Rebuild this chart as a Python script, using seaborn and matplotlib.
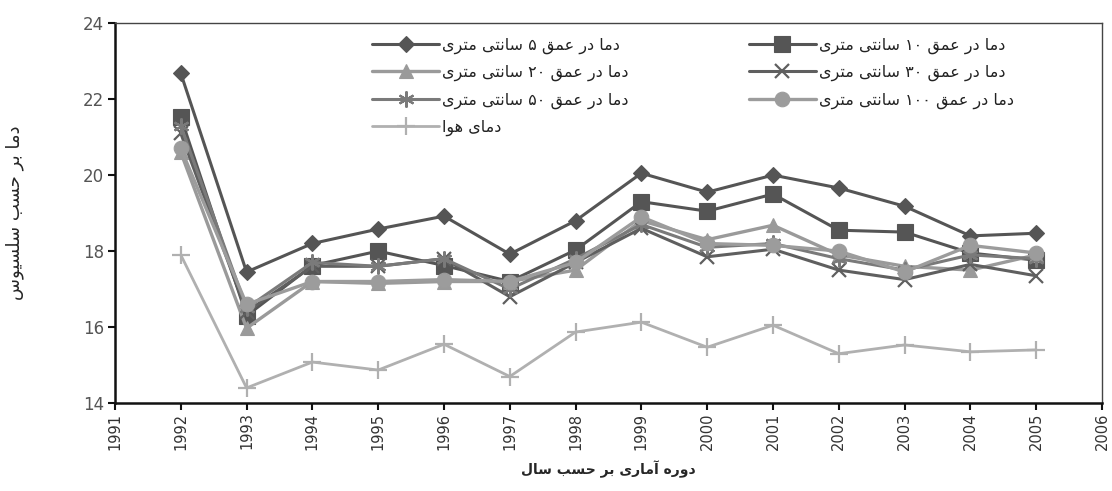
import re
import numpy as np
import pandas as pd
import matplotlib
matplotlib.use("Agg")
import matplotlib.pyplot as plt
import seaborn as sns

# ---------------- data ----------------
years = list(range(1992, 2006))
t5   = [22.68, 17.45, 18.20, 18.58, 18.92, 17.92, 18.80, 20.05, 19.55, 20.00, 19.66, 19.18, 18.40, 18.47]
t10  = [21.53, 16.30, 17.62, 18.00, 17.62, 17.20, 18.03, 19.30, 19.05, 19.50, 18.55, 18.50, 17.95, 17.76]
t20  = [20.60, 15.97, 17.20, 17.15, 17.20, 17.20, 17.50, 18.80, 18.30, 18.68, 17.90, 17.60, 17.50, 17.90]
t30  = [21.10, 16.40, 17.60, 17.60, 17.80, 16.80, 17.70, 18.60, 17.85, 18.05, 17.50, 17.25, 17.65, 17.35]
t50  = [21.30, 16.50, 17.70, 17.60, 17.80, 17.00, 17.80, 18.70, 18.10, 18.20, 17.80, 17.50, 17.90, 17.80]
t100 = [20.70, 16.60, 17.20, 17.20, 17.25, 17.20, 17.70, 18.90, 18.20, 18.15, 18.00, 17.45, 18.15, 17.95]
tair = [17.90, 14.40, 15.08, 14.87, 15.55, 14.70, 15.87, 16.13, 15.47, 16.05, 15.30, 15.53, 15.35, 15.40]

labels = [
    "دما در عمق ۵ سانتی متری",
    "دما در عمق ۱۰ سانتی متری",
    "دما در عمق ۲۰ سانتی متری",
    "دما در عمق ۳۰ سانتی متری",
    "دما در عمق ۵۰ سانتی متری",
    "دما در عمق ۱۰۰ سانتی متری",
    "دمای هوا",
]
x_title = "دوره آماری بر حسب سال"
y_title = "دما بر حسب سلسیوس"
xticks = list(range(1991, 2007))
yticks = [14, 16, 18, 20, 22, 24]

# ------------- minimal Arabic/Persian shaping for display -------------
FORMS = {  # isolated, final, initial, medial
    'ا': ('\uFE8D', '\uFE8E', None, None),
    'آ': ('\uFE81', '\uFE82', None, None),
    'ب': ('\uFE8F', '\uFE90', '\uFE91', '\uFE92'),
    'ت': ('\uFE95', '\uFE96', '\uFE97', '\uFE98'),
    'ح': ('\uFEA1', '\uFEA2', '\uFEA3', '\uFEA4'),
    'د': ('\uFEA9', '\uFEAA', None, None),
    'ر': ('\uFEAD', '\uFEAE', None, None),
    'ز': ('\uFEAF', '\uFEB0', None, None),
    'س': ('\uFEB1', '\uFEB2', '\uFEB3', '\uFEB4'),
    'ع': ('\uFEC9', '\uFECA', '\uFECB', '\uFECC'),
    'ق': ('\uFED5', '\uFED6', '\uFED7', '\uFED8'),
    'ل': ('\uFEDD', '\uFEDE', '\uFEDF', '\uFEE0'),
    'م': ('\uFEE1', '\uFEE2', '\uFEE3', '\uFEE4'),
    'ن': ('\uFEE5', '\uFEE6', '\uFEE7', '\uFEE8'),
    'ه': ('\uFEE9', '\uFEEA', '\uFEEB', '\uFEEC'),
    'و': ('\uFEED', '\uFEEE', None, None),
    'ی': ('\uFBFC', '\uFBFD', '\uFBFE', '\uFBFF'),
}


def rtl(s):
    out = []
    n = len(s)
    for i, ch in enumerate(s):
        if ch not in FORMS:
            out.append(ch)
            continue
        prev = s[i - 1] if i > 0 else ''
        nxt = s[i + 1] if i < n - 1 else ''
        jp = prev in FORMS and FORMS[prev][2] is not None
        jn = FORMS[ch][2] is not None and nxt in FORMS
        iso, fin, ini, med = FORMS[ch]
        if jp and jn:
            out.append(med)
        elif jp:
            out.append(fin)
        elif jn:
            out.append(ini)
        else:
            out.append(iso)
    vis = ''.join(out)[::-1]
    vis = re.sub('[\u06F0-\u06F9]+', lambda m: m.group(0)[::-1], vis)
    return vis


# ---------------- plot ----------------
sns.set_theme(style="white")
plt.rcParams['font.family'] = ['DejaVu Sans']

fig = plt.figure(figsize=(11.12, 4.91), dpi=100)
ax = fig.add_axes([0.1034, 0.179, 0.8876, 0.774])

series = [t5, t10, t20, t30, t50, t100, tair]
colors = ['#555555', '#555555', '#9a9a9a', '#5f5f5f', '#7a7a7a', '#9c9c9c', '#b0b0b0']
markers = ['D', 's', '^', 'x', (6, 2, 0), 'o', '+']
msizes = [8.5, 11, 10.5, 9.5, 11.5, 10.5, 13]
lws = [2.2, 2.2, 2.4, 2.2, 2.2, 2.4, 2.0]

for vals, lab, c, m, ms, lw in zip(series, labels, colors, markers, msizes, lws):
    df = pd.DataFrame({"year": years, "temp": vals})
    sns.lineplot(data=df, x="year", y="temp", ax=ax, color=c, marker=m,
                 markersize=ms, linewidth=lw, markeredgecolor=c,
                 markeredgewidth=1.6 if m in ('x', '+') or isinstance(m, tuple) else 0.8,
                 label=rtl(lab))

h, l = ax.get_legend_handles_labels()
order = [0, 2, 4, 6, 1, 3, 5]
ax.legend([h[i] for i in order], [l[i] for i in order], ncol=2, frameon=False,
          loc='upper left', bbox_to_anchor=(0.25, 0.99), fontsize=11.5,
          handlelength=4.2, columnspacing=7.5, labelspacing=0.7,
          handletextpad=0.2, borderaxespad=0.25, labelcolor='#222222')

ax.set_xlim(1991, 2006)
ax.set_ylim(14, 24)
ax.set_xticks(xticks)
ax.set_xticklabels([])
ax.set_yticks(yticks)
ax.set_yticklabels([str(v) for v in yticks], fontsize=12, color='#555555')
ax.tick_params(axis='both', direction='out', length=5, width=1.5, color='#111111',
               bottom=True, left=True, pad=3)
# rotated year labels placed at the tick positions, just under the axis
xtrans = ax.get_xaxis_transform()
for v in xticks:
    ax.text(v, -0.025, str(v), transform=xtrans, rotation=90, ha='center', va='top',
            fontsize=10.5, color='#333333', clip_on=False)

for side in ('left', 'bottom'):
    ax.spines[side].set_color('#111111')
    ax.spines[side].set_linewidth(1.8)
for side in ('top', 'right'):
    ax.spines[side].set_color('#444444')
    ax.spines[side].set_linewidth(1.0)

ax.set_xlabel(rtl(x_title), fontsize=10, fontweight='bold', labelpad=33)
ax.set_ylabel(rtl(y_title), fontsize=13, labelpad=42)

fig.savefig("out.png", dpi=100)
